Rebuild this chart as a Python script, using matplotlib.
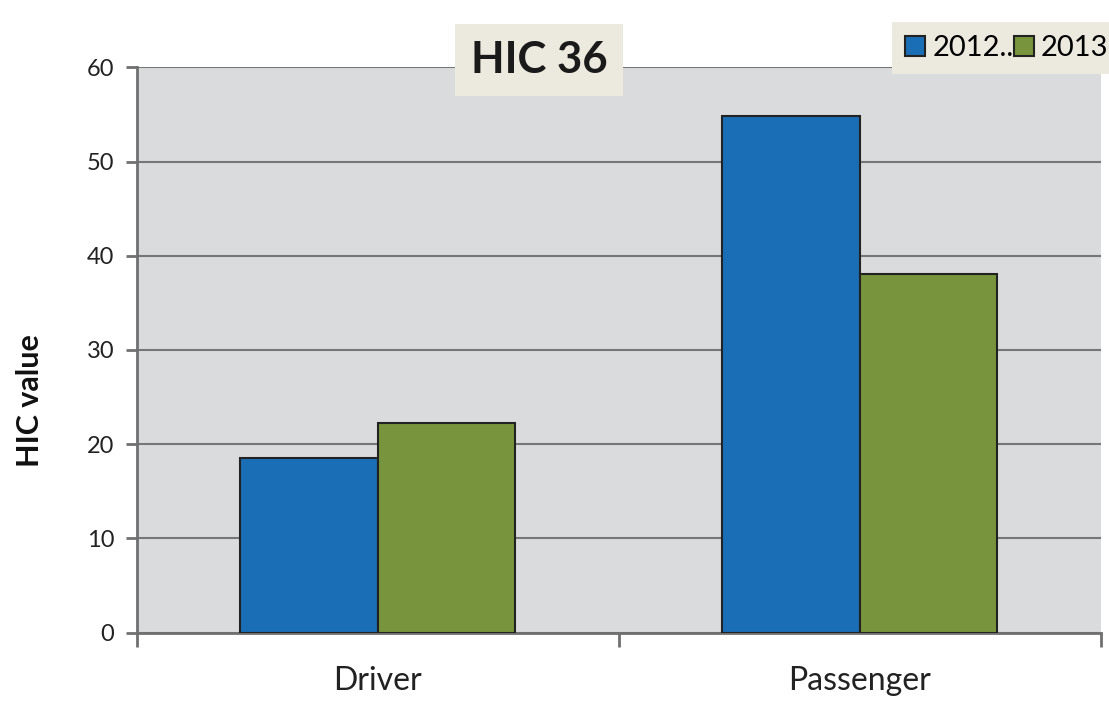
import matplotlib.pyplot as plt
import numpy as np

# data
categories = ['Driver', 'Passenger']
series_labels = ['2012..', '2013.']
values_2012 = [18.5, 54.85]
values_2013 = [22.3, 38.1]
colors = ['#1a6eb6', '#78943c']

plt.rcParams['font.family'] = ['Lato', 'DejaVu Sans']

fig = plt.figure(figsize=(11.09, 7.06), dpi=100)
ax = fig.add_axes([0.1231, 0.1038, 0.8697, 0.8009])
ax.set_facecolor('#dadbdd')

x = np.arange(len(categories))
width = 0.285
ax.bar(x - width / 2, values_2012, width, color=colors[0], edgecolor='#222222',
       linewidth=1.5, label=series_labels[0], zorder=3)
ax.bar(x + width / 2, values_2013, width, color=colors[1], edgecolor='#222222',
       linewidth=1.5, label=series_labels[1], zorder=3)

ax.set_xlim(-0.5, 1.5)
ax.set_ylim(0, 60)
ax.set_yticks(range(0, 61, 10))
ax.yaxis.grid(True, color='#767676', linewidth=1.5, zorder=1)
ax.set_axisbelow(True)

# category ticks sit at the boundaries, labels in the middle
ax.set_xticks([-0.5, 0.5, 1.5])
ax.set_xticklabels([])
ax.set_xticks(x, minor=True)
ax.set_xticklabels(categories, minor=True, fontsize=23, color='#222222')
ax.tick_params(axis='x', which='minor', length=0, pad=24)
ax.tick_params(axis='x', which='major', length=10, width=2, color='#707070')
ax.tick_params(axis='y', length=8, width=2, color='#707070', labelsize=17,
               labelcolor='#222222', pad=8)

for side in ['top', 'right']:
    ax.spines[side].set_visible(False)
for side in ['left', 'bottom']:
    ax.spines[side].set_color('#707070')
    ax.spines[side].set_linewidth(2)

fig.text(0.027, 0.433, 'HIC value', rotation=90, ha='center', va='center',
         fontsize=22, fontweight='bold', color='#111111')

fig.text(0.486, 0.915, 'HIC 36', ha='center', va='center', fontsize=31.5,
         fontweight='bold', color='#1a1a1a',
         bbox=dict(boxstyle='square,pad=0.36', facecolor='#ece9df', edgecolor='none'))

leg = fig.legend(loc='upper left', bbox_to_anchor=(0.7915, 0.99), ncol=2,
                 fontsize=21, frameon=True, fancybox=False, columnspacing=0.0,
                 handlelength=0.68, handleheight=0.68, handletextpad=0.25,
                 borderpad=0.45)
leg.get_frame().set_facecolor('#ece9df')
leg.get_frame().set_edgecolor('none')
leg.get_frame().set_alpha(1)

fig.savefig('out.png', dpi=100)
